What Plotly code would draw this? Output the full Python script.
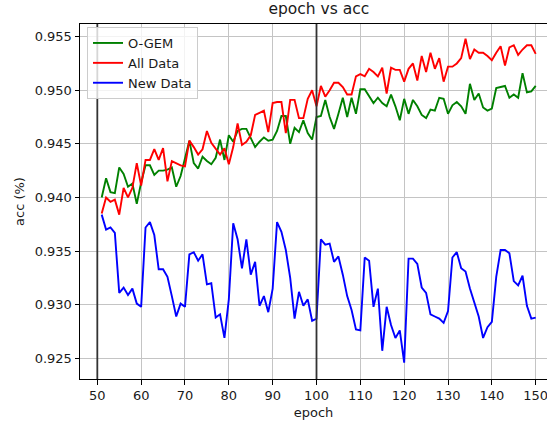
import plotly.graph_objects as go

epochs = list(range(51, 151))

ogem = [
    0.9400, 0.9418, 0.9405, 0.9404, 0.9428, 0.9422, 0.9410, 0.9413, 0.9394, 0.9414,
    0.9430, 0.9430, 0.9421, 0.9425, 0.9425, 0.9426, 0.9428, 0.9410, 0.9420, 0.9438,
    0.9453, 0.9432, 0.9427, 0.9438, 0.9434, 0.9431, 0.9437, 0.9454, 0.9435, 0.9458,
    0.9452, 0.9462, 0.9464, 0.9464, 0.9455, 0.9447, 0.9452, 0.9456, 0.9453, 0.9454,
    0.9462, 0.9476, 0.9476, 0.9450, 0.9465, 0.9461, 0.9472, 0.9460, 0.9454, 0.9475,
    0.9476, 0.9491, 0.9475, 0.9464, 0.9478, 0.9493, 0.9475, 0.9493, 0.9478, 0.9501,
    0.9501, 0.9494, 0.9488, 0.9493, 0.9488, 0.9485, 0.9496, 0.9485, 0.9472, 0.9492,
    0.9478, 0.9491, 0.9485, 0.9477, 0.9474, 0.9482, 0.9481, 0.9493, 0.9492, 0.9478,
    0.9486, 0.9489, 0.9485, 0.9478, 0.9506, 0.9491, 0.9497, 0.9484, 0.9481, 0.9483,
    0.9502, 0.9503, 0.9504, 0.9493, 0.9496, 0.9493, 0.9516, 0.9498, 0.9499, 0.9504,
]

all_data = [
    0.9385, 0.9400, 0.9396, 0.9398, 0.9384, 0.9409, 0.9400, 0.9409, 0.9432, 0.9411,
    0.9435, 0.9435, 0.9445, 0.9435, 0.9446, 0.9415, 0.9434, 0.9432, 0.9430, 0.9429,
    0.9453, 0.9447, 0.9440, 0.9445, 0.9462, 0.9451, 0.9446, 0.9440, 0.9446, 0.9431,
    0.9447, 0.9469, 0.9449, 0.9452, 0.9458, 0.9477, 0.9479, 0.9481, 0.9461, 0.9488,
    0.9489, 0.9489, 0.9460, 0.9491, 0.9491, 0.9474, 0.9474, 0.9492, 0.9500, 0.9485,
    0.9504, 0.9494, 0.9500, 0.9507, 0.9507, 0.9503, 0.9496, 0.9496, 0.9513, 0.9515,
    0.9513, 0.9520, 0.9517, 0.9513, 0.9521, 0.9497, 0.9521, 0.9519, 0.9519, 0.9508,
    0.9520, 0.9525, 0.9509, 0.9532, 0.9517, 0.9535, 0.9520, 0.9530, 0.9508, 0.9522,
    0.9522, 0.9525, 0.9530, 0.9548, 0.9529, 0.9538, 0.9535, 0.9535, 0.9532, 0.9528,
    0.9535, 0.9541, 0.9523, 0.9540, 0.9542, 0.9533, 0.9538, 0.9542, 0.9542, 0.9534,
]

new_data = [
    0.9384, 0.9370, 0.9372, 0.9367, 0.9311, 0.9316, 0.9309, 0.9315, 0.9301, 0.9298,
    0.9372, 0.9377, 0.9365, 0.9333, 0.9333, 0.9326, 0.9308, 0.9289, 0.9301, 0.9298,
    0.9347, 0.9349, 0.9341, 0.9347, 0.9319, 0.9320, 0.9288, 0.9291, 0.9269, 0.9305,
    0.9376, 0.9361, 0.9334, 0.9361, 0.9328, 0.9340, 0.9299, 0.9308, 0.9293, 0.9315,
    0.9377, 0.9368, 0.9351, 0.9325, 0.9287, 0.9312, 0.9299, 0.9305, 0.9285, 0.9287,
    0.9361, 0.9356, 0.9357, 0.9340, 0.9345, 0.9328, 0.9308, 0.9295, 0.9277, 0.9276,
    0.9344, 0.9341, 0.9298, 0.9315, 0.9257, 0.9298, 0.9281, 0.9269, 0.9276, 0.9246,
    0.9343, 0.9343, 0.9338, 0.9316, 0.9311, 0.9291, 0.9289, 0.9287, 0.9283, 0.9294,
    0.9344, 0.9349, 0.9334, 0.9331, 0.9315, 0.9301, 0.9289, 0.9269, 0.9279, 0.9284,
    0.9326, 0.9351, 0.9351, 0.9348, 0.9322, 0.9318, 0.9327, 0.9299, 0.9287, 0.9288,
]

series_names = ["O-GEM", "All Data", "New Data"]
series_colors = ["green", "red", "blue"]
boundaries = [50, 100]
x_ticks = [50, 60, 70, 80, 90, 100, 110, 120, 130, 140, 150]
y_ticks = [0.925, 0.930, 0.935, 0.940, 0.945, 0.950, 0.955]

FONT = "DejaVu Sans"

fig = go.Figure()
for name, ys, col in zip(series_names, [ogem, all_data, new_data], series_colors):
    fig.add_trace(go.Scatter(x=epochs, y=ys, mode="lines", name=name,
                             line=dict(color=col, width=1.9)))

for b in boundaries:
    fig.add_shape(type="line", xref="x", yref="paper", x0=b, x1=b, y0=0, y1=1,
                  line=dict(color="#333333", width=1.8), layer="above")

fig.update_layout(
    width=547, height=424,
    margin=dict(l=80, r=0, t=24, b=45),
    paper_bgcolor="white", plot_bgcolor="white",
    font=dict(family=FONT, size=13, color="#1a1a1a"),
    title=dict(text="epoch vs acc", x=318.9 / 547, xanchor="center",
               y=1 - 3 / 424, yanchor="top", yref="container",
               font=dict(family=FONT, size=15.5, color="#1a1a1a")),
    showlegend=True,
    legend=dict(x=7 / 467, y=1 - 3 / 355, xanchor="left", yanchor="top",
                bgcolor="rgba(255,255,255,0.8)", bordercolor="#cccccc", borderwidth=1,
                font=dict(family=FONT, size=13, color="#1a1a1a"),
                itemwidth=30, tracegroupgap=0),
)

fig.update_xaxes(
    range=[46.05, 152.58], tickvals=x_ticks, ticks="outside", ticklen=4.5,
    tickwidth=0.9, tickcolor="black", showline=True, linecolor="black",
    linewidth=1, mirror=True, showgrid=True, gridcolor="#c4c4c4", gridwidth=0.9,
    zeroline=False, ticklabeloverflow="allow",
    title=dict(text="epoch", standoff=5, font=dict(family=FONT, size=13)),
)
fig.update_yaxes(
    range=[0.92307, 0.95618], tickvals=y_ticks, tickformat=".3f", ticks="outside",
    ticklen=4.5, tickwidth=0.9, tickcolor="black", showline=True, linecolor="black",
    linewidth=1, showgrid=True, gridcolor="#c4c4c4", gridwidth=0.9, zeroline=False,
    title=dict(text="acc (%)", standoff=7, font=dict(family=FONT, size=13)),
)

fig.write_html("out.html")
